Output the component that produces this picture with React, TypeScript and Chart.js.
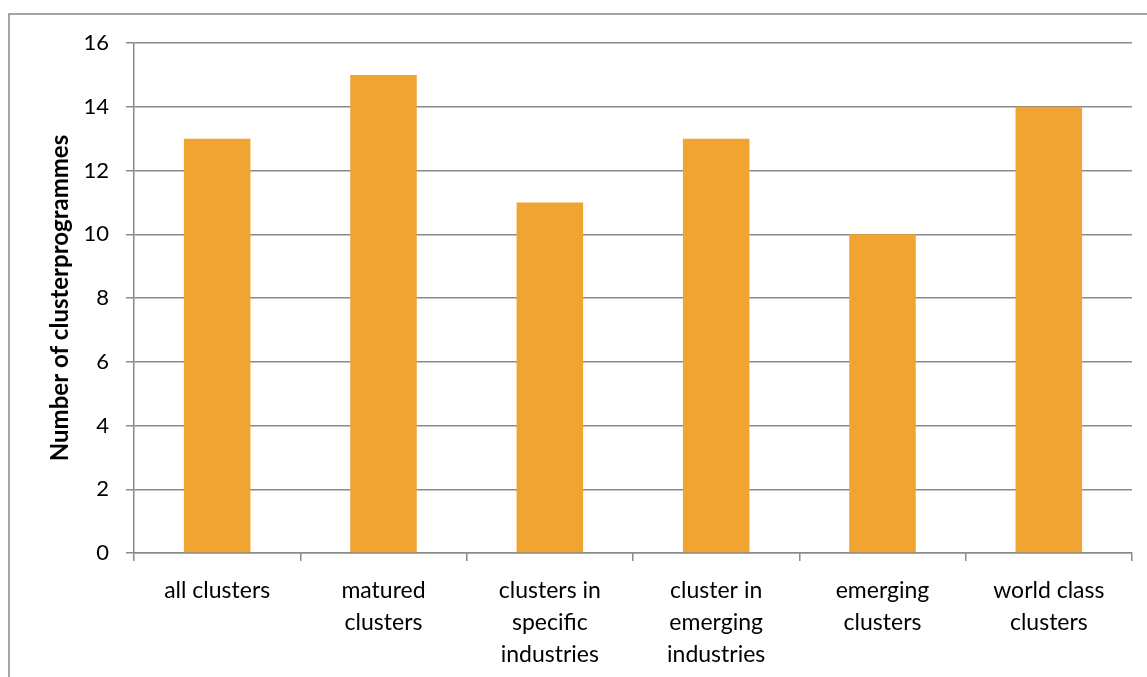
import React, { useEffect, useRef } from "react";
import { Chart, registerables } from "chart.js";

Chart.register(...registerables);

const categories: (string | string[])[] = [
  "all clusters",
  ["matured", "clusters"],
  ["clusters in", "specific", "industries"],
  ["cluster in", "emerging", "industries"],
  ["emerging", "clusters"],
  ["world class", "clusters"],
];
const values = [13, 15, 11, 13, 10, 14];
const yTitle = "Number of clusterprogrammes";

const FONT = "Lato, 'Open Sans', sans-serif";
const GRID = "#8a8a8a";

const borderPlugin = {
  id: "outerBorder",
  beforeDraw(chart: any) {
    const ctx = chart.ctx;
    ctx.save();
    ctx.strokeStyle = "#878787";
    ctx.lineWidth = 1.5;
    ctx.strokeRect(9, 14, 1200, 800);
    ctx.restore();
  },
};

export default function App() {
  const ref = useRef<HTMLCanvasElement>(null);
  useEffect(() => {
    document.body.style.margin = "0";
    const chart = new Chart(ref.current!, {
      type: "bar",
      data: {
        labels: categories,
        datasets: [
          {
            data: values,
            backgroundColor: "#F0A431",
            borderWidth: 0,
            barPercentage: 1,
            categoryPercentage: 0.4,
          },
        ],
      },
      options: {
        responsive: false,
        animation: false,
        devicePixelRatio: 1,
        layout: { padding: { top: 43, right: 15, left: 0, bottom: 0 } },
        plugins: { legend: { display: false }, tooltip: { enabled: false } },
        scales: {
          x: {
            grid: {
              display: true,
              drawOnChartArea: false,
              offset: true,
              color: GRID,
              lineWidth: 1.5,
              tickLength: 8,
            },
            border: { color: GRID, width: 1.5 },
            ticks: {
              color: "#000",
              font: { family: FONT, size: 23, lineHeight: 1.41 },
              maxRotation: 0,
              autoSkip: false,
              padding: 13,
            },
            afterFit: (s: any) => {
              s.height = 124;
            },
          },
          y: {
            min: 0,
            max: 16,
            ticks: {
              stepSize: 2,
              color: "#000",
              font: { family: FONT, size: 22 },
              padding: 17,
            },
            grid: { color: GRID, lineWidth: 1.5, tickLength: 8 },
            border: { color: GRID, width: 1.5 },
            title: {
              display: true,
              text: yTitle,
              color: "#000",
              font: { family: FONT, size: 24, weight: "bold", lineHeight: 1.2 },
              padding: { top: 46, bottom: 0 },
            },
            afterFit: (s: any) => {
              s.width = 134;
            },
          },
        },
      },
      plugins: [borderPlugin],
    });
    return () => chart.destroy();
  }, []);
  return <canvas ref={ref} width={1147} height={677} style={{ display: "block" }} />;
}
